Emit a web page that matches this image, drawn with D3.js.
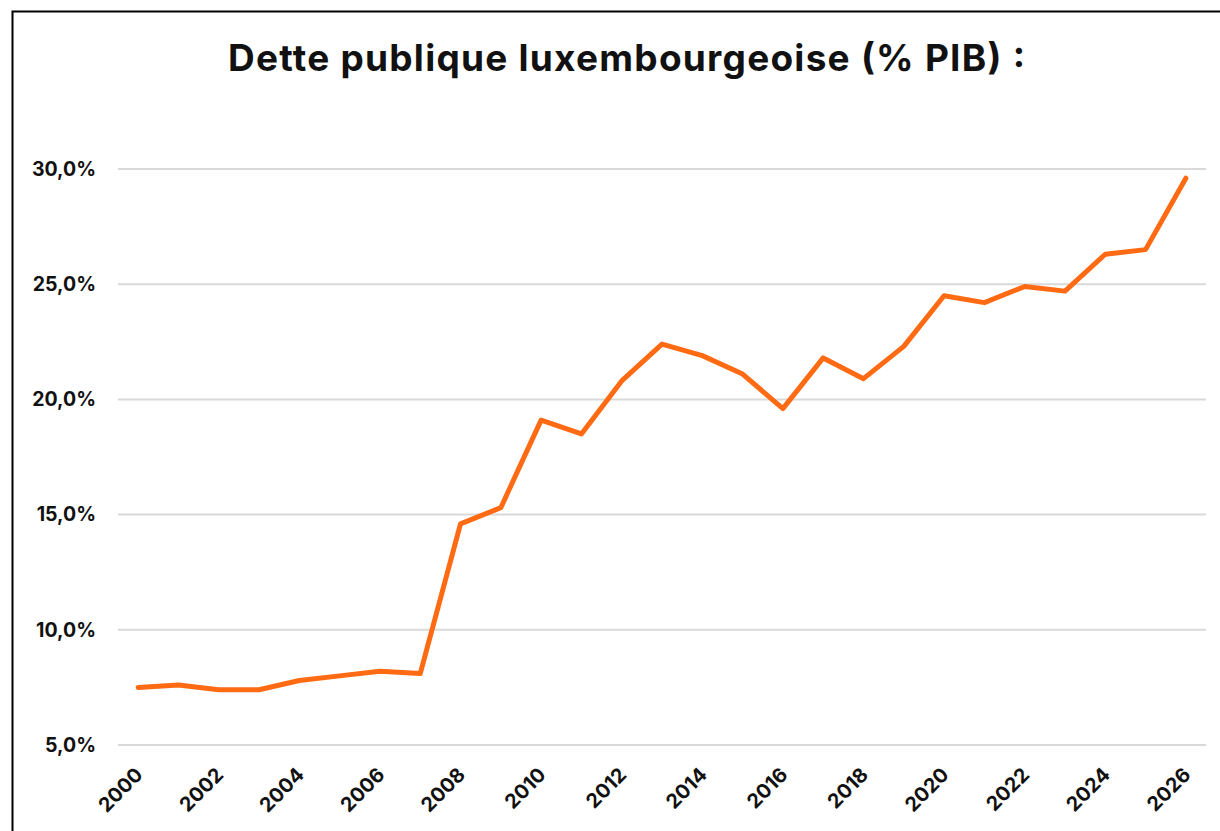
<!DOCTYPE html>
<html>
<head>
<meta charset="utf-8">
<script src="https://cdn.jsdelivr.net/npm/d3@7"></script>
<style>
	body { margin: 0; background: #fff; }
	svg { display: block; font-family: Inter, "Liberation Sans", sans-serif; }
</style>
</head>
<body>
<div id="chart"></div>
<script>
/**
 * Data.
 */
var years = ["2000", "2001", "2002", "2003", "2004", "2005", "2006", "2007", "2008", "2009",
	"2010", "2011", "2012", "2013", "2014", "2015", "2016", "2017", "2018", "2019",
	"2020", "2021", "2022", "2023", "2024", "2025", "2026"];
var dette = [7.5, 7.6, 7.4, 7.4, 7.8, 8.0, 8.2, 8.1, 14.6, 15.3,
	19.1, 18.5, 20.8, 22.4, 21.9, 21.1, 19.6, 21.8, 20.9, 22.3,
	24.5, 24.2, 24.9, 24.7, 26.3, 26.5, 29.6];
var yTicks = [5, 10, 15, 20, 25, 30];
var xLabels = years.filter(function (d, i) { return i % 2 == 0; });
var title = "Dette publique luxembourgeoise (% PIB) :";

var width = 1220,
	height = 831,
	margin = { top: 169, right: 12, bottom: 86, left: 118 };

var svg = d3.select("#chart").append("svg")
	.attr("width", width)
	.attr("height", height);

// frame
svg.append("rect")
	.attr("x", 12.5)
	.attr("y", 11.5)
	.attr("width", width + 20)
	.attr("height", height + 20)
	.attr("fill", "none")
	.attr("stroke", "#000")
	.attr("stroke-width", 2);

svg.append("text")
	.attr("x", 228)
	.attr("y", 71)
	.attr("textLength", 797)
	.attr("lengthAdjust", "spacing")
	.style("font-size", "37px")
	.style("font-weight", 700)
	.attr("fill", "#111")
	.text(title);

var x = d3.scaleBand()
	.domain(years)
	.range([margin.left, width - margin.right - 2]);

var y = d3.scaleLinear()
	.domain([5, 30])
	.range([height - margin.bottom, margin.top]);

var fmt = function (d) { return d3.format(".1f")(d).replace(".", ",") + "%"; };

// gridlines
svg.append("g")
	.selectAll("line")
	.data(yTicks)
	.join("line")
	.attr("x1", x.range()[0])
	.attr("x2", x.range()[1])
	.attr("y1", function (d) { return y(d); })
	.attr("y2", function (d) { return y(d); })
	.attr("stroke", "#d9d9d9")
	.attr("stroke-width", 2);

// y axis labels
var yAxis = svg.append("g")
	.attr("transform", "translate(" + (margin.left - 22) + ",0)")
	.call(d3.axisLeft(y).tickValues(yTicks).tickFormat(fmt).tickSize(0).tickPadding(0));
yAxis.select(".domain").remove();
yAxis.selectAll("text")
	.attr("fill", "#111")
	.style("font-family", "Inter, sans-serif")
	.style("font-size", "19.5px")
	.style("font-weight", 700);

// x axis labels
var xAxis = svg.append("g")
	.attr("transform", "translate(0," + (height - margin.bottom) + ")")
	.call(d3.axisBottom(x).tickValues(xLabels).tickSize(0).tickPadding(0));
xAxis.select(".domain").remove();
xAxis.selectAll("text")
	.attr("fill", "#111")
	.style("font-family", "Inter, sans-serif")
	.style("font-size", "20px")
	.style("font-weight", 700)
	.attr("text-anchor", "end")
	.attr("dy", null)
	.attr("y", 0)
	.attr("transform", "translate(6,31) rotate(-45)");

// line
var line = d3.line()
	.x(function (d, i) { return x(years[i]) + x.bandwidth() / 2; })
	.y(function (d) { return y(d); });

svg.append("path")
	.datum(dette)
	.attr("d", line)
	.attr("fill", "none")
	.attr("stroke", "#ff6a13")
	.attr("stroke-width", 5)
	.attr("stroke-linejoin", "round")
	.attr("stroke-linecap", "round");
</script>
</body>
</html>
